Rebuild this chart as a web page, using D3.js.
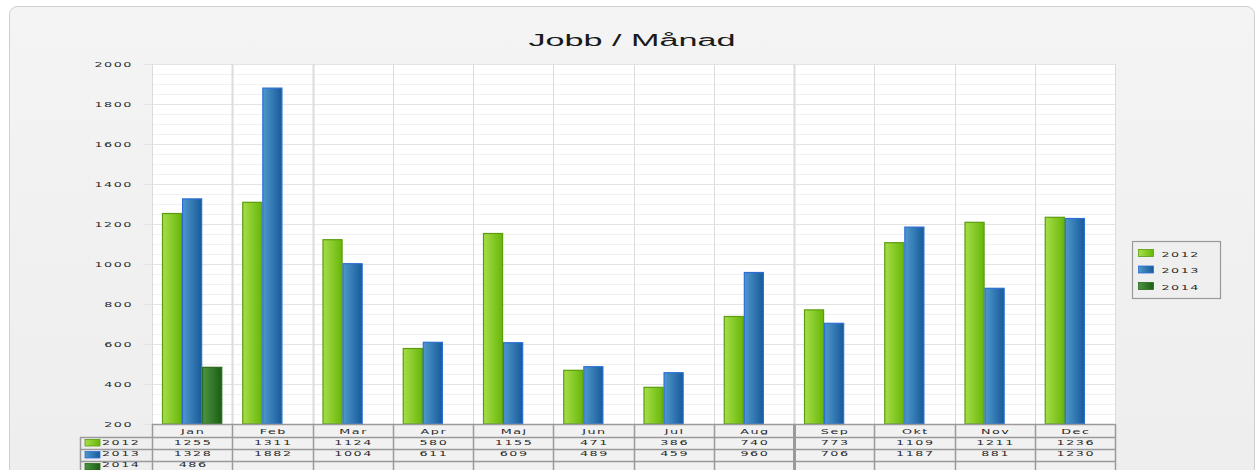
<!DOCTYPE html>
<html>
<head>
<meta charset="utf-8">
<script src="https://cdn.jsdelivr.net/npm/d3@7"></script>
<style>
  body { margin: 0; background: #fff; }
</style>
</head>
<body>
<div id="chart"></div>
<script>
// data
var months = ["Jan", "Feb", "Mar", "Apr", "Maj", "Jun", "Jul", "Aug", "Sep", "Okt", "Nov", "Dec"];
var seriesNames = ["2012", "2013", "2014"];
var values2012 = [1255, 1311, 1124, 580, 1155, 471, 386, 740, 773, 1109, 1211, 1236];
var values2013 = [1328, 1882, 1004, 611, 609, 489, 459, 960, 706, 1187, 881, 1230];
var values2014 = [486, null, null, null, null, null, null, null, null, null, null, null];
var yTicks = [200, 400, 600, 800, 1000, 1200, 1400, 1600, 1800, 2000];

var seriesValues = [values2012, values2013, values2014];

// layout
var W = 1258, H = 470;
var plot = {left: 152, right: 1115, top: 64, bottom: 424};
var rowTops = [424, 437, 449, 461];
var rowBase = [434, 444.5, 455.5, 466.5];
var stretch = 1.7;

var svg = d3.select("#chart").append("svg")
  .attr("width", W).attr("height", H);

var defs = svg.append("defs");
function grad(id, c1, c2) {
  var g = defs.append("linearGradient").attr("id", id)
    .attr("x1", "0%").attr("x2", "100%").attr("y1", "0%").attr("y2", "0%");
  g.append("stop").attr("offset", "0%").attr("stop-color", c1);
  g.append("stop").attr("offset", "100%").attr("stop-color", c2);
}
grad("g2012", "#a6de48", "#68b60a");
grad("g2013", "#4f98cc", "#175a9a");
grad("g2014", "#4d9444", "#1b5e12");
var bg = defs.append("linearGradient").attr("id", "bg")
  .attr("x1", "0%").attr("x2", "0%").attr("y1", "0%").attr("y2", "100%");
bg.append("stop").attr("offset", "0%").attr("stop-color", "#f4f4f4");
bg.append("stop").attr("offset", "100%").attr("stop-color", "#ededed");

var fills = ["url(#g2012)", "url(#g2013)", "url(#g2014)"];
var strokes = ["#5a9c0e", "#2b6fd6", "#2c6a1c"];

// wide small labels: glyphs stretched horizontally
function smallText(sel, fx, fy) {
  return sel
    .attr("transform", function(d, i){ return "translate(" + fx(d, i) + "," + fy(d, i) + ") scale(" + stretch + ",1)"; })
    .style("font-family", "DejaVu Sans, sans-serif")
    .style("font-size", "7.5px")
    .style("letter-spacing", "0.9px")
    .attr("fill", "#2a2a2a");
}

// panel
svg.append("rect")
  .attr("x", 9.5).attr("y", 6.5)
  .attr("width", 1245).attr("height", 520)
  .attr("rx", 8)
  .attr("fill", "url(#bg)")
  .attr("stroke", "#cfcfcf");

// title
svg.append("text")
  .attr("x", 632).attr("y", 46)
  .attr("text-anchor", "middle")
  .style("font-family", "Liberation Sans, Arial, sans-serif")
  .style("font-size", "16px")
  .attr("textLength", 207)
  .attr("lengthAdjust", "spacingAndGlyphs")
  .attr("fill", "#1a1a1a")
  .text("Jobb / Månad");

// scales
var x0 = d3.scaleBand().domain(months).range([plot.left, plot.right]).paddingInner(0);
var x1 = d3.scaleBand().domain(seriesNames).range([10, x0.bandwidth() - 10]).padding(0);
var y = d3.scaleLinear().domain([200, 2000]).range([plot.bottom, plot.top]);

// plot background
svg.append("rect")
  .attr("x", plot.left).attr("y", plot.top)
  .attr("width", plot.right - plot.left).attr("height", plot.bottom - plot.top)
  .attr("fill", "#fff");

// minor + major horizontal grid
var minor = d3.range(250, 2000, 50).filter(function(v){ return v % 200 !== 0; });
svg.append("g").selectAll("line").data(minor).join("line")
  .attr("x1", plot.left).attr("x2", plot.right)
  .attr("y1", function(d){ return Math.round(y(d)) + 0.5; })
  .attr("y2", function(d){ return Math.round(y(d)) + 0.5; })
  .attr("stroke", "#f1f1f1");
svg.append("g").selectAll("line").data(yTicks).join("line")
  .attr("x1", plot.left - 8).attr("x2", plot.right)
  .attr("y1", function(d){ return Math.round(y(d)) + 0.5; })
  .attr("y2", function(d){ return Math.round(y(d)) + 0.5; })
  .attr("stroke", "#e4e4e4");

// vertical category lines in plot
var bounds = months.map(function(m){ return x0(m); }).concat([plot.right]);
svg.append("g").selectAll("line").data(bounds).join("line")
  .attr("x1", function(d){ return Math.round(d) + 0.5; })
  .attr("x2", function(d){ return Math.round(d) + 0.5; })
  .attr("y1", plot.top).attr("y2", plot.bottom)
  .attr("stroke", "#dcdcdc")
  .attr("stroke-width", function(d, i){ return (i === 1 || i === 2 || i === 8) ? 2 : 1; });

// y axis labels
smallText(svg.append("g").selectAll("text").data(yTicks).join("text"),
    function(){ return plot.left - 19; },
    function(d){ return y(d) + 3; })
  .attr("text-anchor", "end")
  .text(function(d){ return d3.format("d")(d); });

// bars
var bars = svg.append("g");
seriesNames.forEach(function(s, si) {
  var data = months.map(function(m, i){ return {m: m, v: seriesValues[si][i]}; })
    .filter(function(d){ return d.v != null; });
  bars.selectAll(".bar" + s).data(data).join("rect")
    .attr("x", function(d){ return x0(d.m) + x1(s) + 0.5; })
    .attr("y", function(d){ return y(d.v) + 0.5; })
    .attr("width", x1.bandwidth() - 1)
    .attr("height", function(d){ return plot.bottom - y(d.v) - 0.5; })
    .attr("fill", fills[si])
    .attr("stroke", strokes[si])
    .attr("stroke-width", 1.2);
});

// data table
var table = svg.append("g");
var tableLine = "#9a9a9a";
table.append("rect")
  .attr("x", plot.left).attr("y", rowTops[0])
  .attr("width", plot.right - plot.left).attr("height", H - rowTops[0] + 10)
  .attr("fill", "#f1f1f1");
rowTops.forEach(function(t, r) {
  table.append("line")
    .attr("x1", r === 0 ? plot.left : 80).attr("x2", plot.right)
    .attr("y1", t + 0.5).attr("y2", t + 0.5)
    .attr("stroke", tableLine).attr("stroke-width", 1.5);
});
table.append("line")
  .attr("x1", 80.5).attr("x2", 80.5)
  .attr("y1", rowTops[1]).attr("y2", H)
  .attr("stroke", tableLine).attr("stroke-width", 1.5);
table.selectAll(".vb").data(bounds).join("line")
  .attr("x1", function(d){ return Math.round(d) + 0.5; })
  .attr("x2", function(d){ return Math.round(d) + 0.5; })
  .attr("y1", rowTops[0]).attr("y2", H)
  .attr("stroke", tableLine)
  .attr("stroke-width", function(d, i){ return (i === 8) ? 3 : 1.5; });

// month names
smallText(table.selectAll(".mn").data(months).join("text"),
    function(d){ return x0(d) + x0.bandwidth() / 2 + 1; },
    function(){ return rowBase[0]; })
  .attr("text-anchor", "middle")
  .text(function(d){ return d; });

// series rows
seriesNames.forEach(function(s, si) {
  var rt = rowTops[si + 1];
  table.append("rect")
    .attr("x", 85).attr("y", rt + 2.5)
    .attr("width", 15).attr("height", 6.5)
    .attr("fill", fills[si]).attr("stroke", strokes[si]).attr("stroke-width", 0.8);
  smallText(table.append("text"),
      function(){ return 102; },
      function(){ return rowBase[si + 1]; })
    .text(s);
  var data = months.map(function(m, i){ return {m: m, v: seriesValues[si][i]}; })
    .filter(function(d){ return d.v != null; });
  smallText(table.selectAll(".v" + s).data(data).join("text"),
      function(d){ return x0(d.m) + x0.bandwidth() / 2 + 1; },
      function(){ return rowBase[si + 1]; })
    .attr("text-anchor", "middle")
    .text(function(d){ return d.v; });
});

// legend
var lg = svg.append("g").attr("transform", "translate(1132.5,241.5)");
lg.append("rect")
  .attr("width", 88).attr("height", 57)
  .attr("fill", "#efefef").attr("stroke", "#999").attr("stroke-width", 1.2);
seriesNames.forEach(function(s, si) {
  var ly = 8 + si * 16.5;
  lg.append("rect")
    .attr("x", 6).attr("y", ly)
    .attr("width", 15).attr("height", 7)
    .attr("fill", fills[si]).attr("stroke", strokes[si]).attr("stroke-width", 0.8);
  smallText(lg.append("text"),
      function(){ return 29; },
      function(){ return ly + 7; })
    .text(s);
});
</script>
</body>
</html>
